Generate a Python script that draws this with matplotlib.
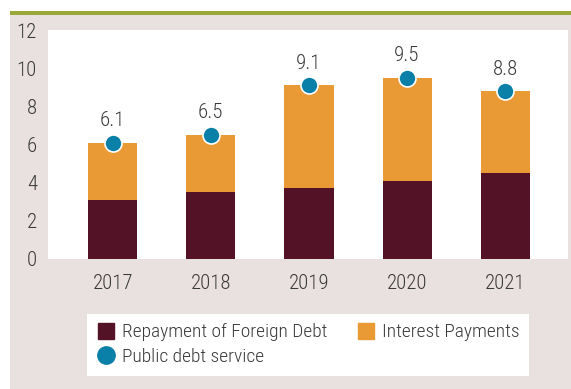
import numpy as np
import matplotlib
matplotlib.use('Agg')
import matplotlib.pyplot as plt
from matplotlib.patches import Rectangle
from matplotlib.lines import Line2D

years = ['2017', '2018', '2019', '2020', '2021']
repayment = [3.1, 3.5, 3.7, 4.1, 4.5]
interest = [3.0, 3.0, 5.4, 5.4, 4.3]
debt_service = [6.1, 6.5, 9.1, 9.5, 8.8]

MAROON = '#541227'
ORANGE = '#e99a35'
BLUE = '#0a7fa8'
BG = '#e8e1df'
TEXT = '#3a3a3a'

plt.rcParams['font.family'] = ['Roboto Condensed', 'DejaVu Sans']
plt.rcParams['font.weight'] = 300

fig = plt.figure(figsize=(5.71, 3.89), dpi=100)
fig.patch.set_facecolor('white')

# panel background and green rule on top
fig.patches.append(Rectangle((10 / 571, 0), 1, 374 / 389, transform=fig.transFigure,
                             facecolor=BG, edgecolor='none', zorder=-10))
fig.patches.append(Rectangle((10 / 571, 374 / 389), 1, 4 / 389, transform=fig.transFigure,
                             facecolor='#9aa83a', edgecolor='none', zorder=-9))

ax = fig.add_axes([48 / 571, 130 / 389, 520 / 571, 229 / 389])
ax.set_facecolor('white')

x = np.arange(len(years))
ax.bar(x, repayment, width=0.5, color=MAROON, zorder=2)
ax.bar(x, interest, width=0.5, bottom=repayment, color=ORANGE, zorder=2)
ax.scatter(x, debt_service, s=150, color=BLUE, edgecolor='white', linewidth=1.2, zorder=3)

for xi, v in zip(x, debt_service):
    ax.annotate(f'{v:.1f}', (xi, v), xytext=(0, 9), textcoords='offset points',
                ha='center', va='bottom', fontsize=15, color=TEXT)

ax.set_xlim(-0.66, 4.64)
ax.set_ylim(0, 12)
ax.set_yticks(range(0, 13, 2))
ax.set_xticks(x)
ax.set_xticklabels(years)
ax.tick_params(length=0, labelsize=15, labelcolor=TEXT)
ax.tick_params(axis='x', pad=11)
ax.tick_params(axis='y', pad=8)
for s in ax.spines.values():
    s.set_visible(False)

handles = [
    Line2D([], [], marker='s', linestyle='none', markersize=12, color=MAROON),
    Line2D([], [], marker='o', linestyle='none', markersize=12.5, color=BLUE),
    Line2D([], [], marker='s', linestyle='none', markersize=12, color=ORANGE),
]
labels = ['Repayment of Foreign Debt', 'Public debt service', 'Interest Payments']
leg = fig.legend(handles, labels, ncol=2, loc='lower left',
                 bbox_to_anchor=(87 / 571, 13 / 389, 442 / 571, 61 / 389),
                 mode='expand', frameon=True, fancybox=False, fontsize=14,
                 handletextpad=0.3, handlelength=1.0, labelspacing=0.35,
                 borderaxespad=0, borderpad=0.5, columnspacing=1.0)
leg.get_frame().set_facecolor('white')
leg.get_frame().set_edgecolor('none')
leg.get_frame().set_alpha(1)
for t in leg.get_texts():
    t.set_color(TEXT)

fig.savefig('out.png', dpi=100, facecolor=fig.get_facecolor())
